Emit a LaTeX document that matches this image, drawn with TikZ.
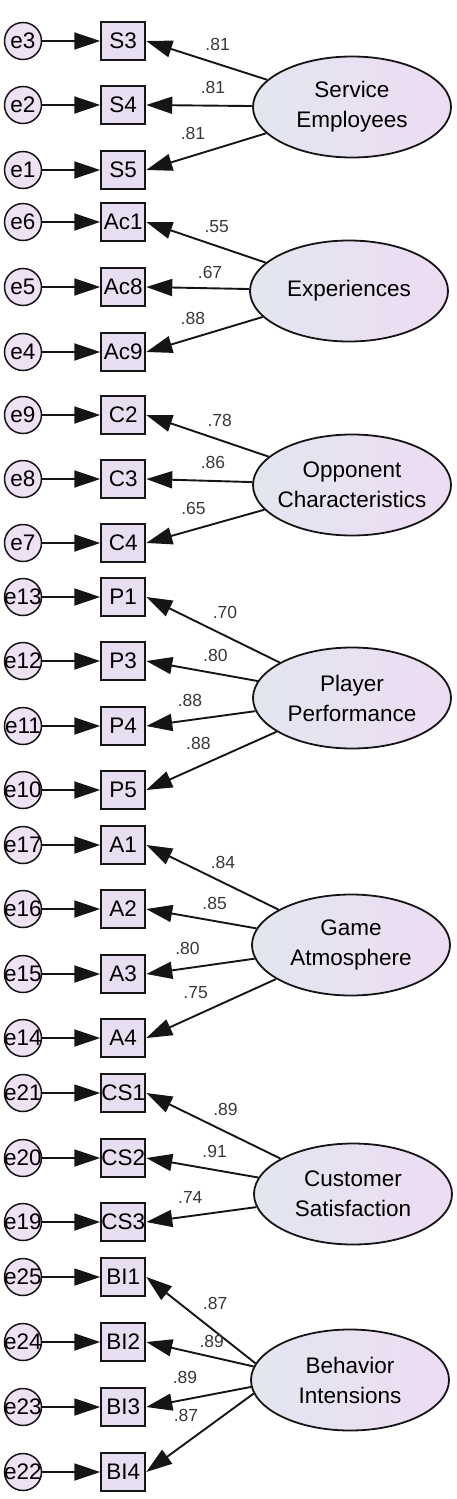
\documentclass[tikz,border=0pt]{standalone}
\usepackage{fontspec}
\setmainfont{Liberation Sans}
\usepackage{xcolor}
\usepackage{tikz}
\usetikzlibrary{arrows.meta,positioning,shapes.geometric}
\definecolor{ink}{HTML}{151515}
\definecolor{lavbox}{HTML}{E8DEF1}
\definecolor{laverr}{HTML}{EDE1F3}
\definecolor{latleft}{HTML}{E2E6EF}
\definecolor{latright}{HTML}{EEDCF3}
\newcommand{\semfont}{\fontsize{22.5}{30}\selectfont}
\newcommand{\lblfont}{\fontsize{17.5}{20}\selectfont}
\tikzset{
  semerr/.style={circle, draw=ink, line width=1.5pt, fill=laverr, minimum size=37pt, inner sep=-3pt, font=\semfont},
  semind/.style={draw=ink, line width=2pt, fill=lavbox, minimum width=44pt, minimum height=38pt, inner sep=0pt, font=\semfont},
  semlat/.style={ellipse, draw=ink, line width=1.8pt, left color=latleft, right color=latright, minimum width=198pt, minimum height=101pt, inner xsep=-10pt, inner ysep=0pt, align=center, font=\semfont},
  semarrow/.style={-{Triangle[length=26pt, width=17pt]}, line width=1.9pt, ink},
  semlabel/.style={font=\lblfont, text=ink!85, inner sep=0pt},
}

\begin{document}
\begin{tikzpicture}[x=1pt, y=-1pt, node distance=58pt]
  \useasboundingbox (0,0) rectangle (457,1499);
  % error terms and indicators
  \node[semerr] (e3) at (23,41) {e3};    \node[semind, right=of e3] (S3) {S3};
  \node[semerr] (e2) at (23,105) {e2};   \node[semind, right=of e2] (S4) {S4};
  \node[semerr] (e1) at (23,170) {e1};   \node[semind, right=of e1] (S5) {S5};
  \node[semerr] (e6) at (23,222) {e6};   \node[semind, right=of e6] (Ac1) {Ac1};
  \node[semerr] (e5) at (23,287) {e5};   \node[semind, right=of e5] (Ac8) {Ac8};
  \node[semerr] (e4) at (23,352) {e4};   \node[semind, right=of e4] (Ac9) {Ac9};
  \node[semerr] (e9) at (23,415) {e9};   \node[semind, right=of e9] (C2) {C2};
  \node[semerr] (e8) at (23,479) {e8};   \node[semind, right=of e8] (C3) {C3};
  \node[semerr] (e7) at (23,543) {e7};   \node[semind, right=of e7] (C4) {C4};
  \node[semerr] (e13) at (23,597) {e13}; \node[semind, right=of e13] (P1) {P1};
  \node[semerr] (e12) at (23,661) {e12}; \node[semind, right=of e12] (P3) {P3};
  \node[semerr] (e11) at (23,726) {e11}; \node[semind, right=of e11] (P4) {P4};
  \node[semerr] (e10) at (23,790) {e10}; \node[semind, right=of e10] (P5) {P5};
  \node[semerr] (e17) at (23,845) {e17}; \node[semind, right=of e17] (A1) {A1};
  \node[semerr] (e16) at (23,909) {e16}; \node[semind, right=of e16] (A2) {A2};
  \node[semerr] (e15) at (23,974) {e15}; \node[semind, right=of e15] (A3) {A3};
  \node[semerr] (e14) at (23,1038) {e14}; \node[semind, right=of e14] (A4) {A4};
  \node[semerr] (e21) at (23,1093) {e21}; \node[semind, right=of e21] (CS1) {CS1};
  \node[semerr] (e20) at (23,1158) {e20}; \node[semind, right=of e20] (CS2) {CS2};
  \node[semerr] (e19) at (23,1222) {e19}; \node[semind, right=of e19] (CS3) {CS3};
  \node[semerr] (e25) at (23,1277) {e25}; \node[semind, right=of e25] (BI1) {BI1};
  \node[semerr] (e24) at (23,1342) {e24}; \node[semind, right=of e24] (BI2) {BI2};
  \node[semerr] (e23) at (23,1407) {e23}; \node[semind, right=of e23] (BI3) {BI3};
  \node[semerr] (e22) at (23,1472) {e22}; \node[semind, right=of e22] (BI4) {BI4};
  \foreach \e/\i in {e3/S3, e2/S4, e1/S5, e6/Ac1, e5/Ac8, e4/Ac9, e9/C2, e8/C3, e7/C4,
      e13/P1, e12/P3, e11/P4, e10/P5, e17/A1, e16/A2, e15/A3, e14/A4,
      e21/CS1, e20/CS2, e19/CS3, e25/BI1, e24/BI2, e23/BI3, e22/BI4}
    \draw[semarrow] (\e) -- (\i);
  % latent factors
  \node[semlat] (serv) at (352,107) {Service\\Employees};
  \node[semlat] (expe) at (349,291) {Experiences};
  \node[semlat] (oppo) at (352,485) {Opponent\\Characteristics};
  \node[semlat] (play) at (352,698) {Player\\Performance};
  \node[semlat] (atmo) at (351,945) {Game\\Atmosphere};
  \node[semlat] (csat) at (353,1194) {Customer\\Satisfaction};
  \node[semlat] (bint) at (350,1380) {Behavior\\Intensions};
  % loadings
  \draw[semarrow] (serv) -- node[semlabel, pos=.41, yshift=19pt]{.81} (S3.east);
  \draw[semarrow] (serv) -- node[semlabel, pos=.37, yshift=18pt]{.81} (S4.east);
  \draw[semarrow] (serv) -- node[semlabel, pos=.61, yshift=22pt]{.81} (S5.east);
  \draw[semarrow] (expe) -- node[semlabel, pos=.41, yshift=19pt]{.55} (Ac1.east);
  \draw[semarrow] (expe) -- node[semlabel, pos=.38, yshift=16pt]{.67} (Ac8.east);
  \draw[semarrow] (expe) -- node[semlabel, pos=.60, yshift=20pt]{.88} (Ac9.east);
  \draw[semarrow] (oppo) -- node[semlabel, pos=.40, yshift=20pt]{.78} (C2.east);
  \draw[semarrow] (oppo) -- node[semlabel, pos=.37, yshift=18pt]{.86} (C3.east);
  \draw[semarrow] (oppo) -- node[semlabel, pos=.60, yshift=21pt]{.65} (C4.east);
  \draw[semarrow] (play) -- node[semlabel, pos=.41, yshift=23pt]{.70} (P1.east);
  \draw[semarrow] (play) -- node[semlabel, pos=.38, yshift=18pt]{.80} (P3.east);
  \draw[semarrow] (play) -- node[semlabel, pos=.60, yshift=20pt]{.88} (P4.east);
  \draw[semarrow] (play) -- node[semlabel, pos=.60, yshift=23pt]{.88} (P5.east);
  \draw[semarrow] (atmo) -- node[semlabel, pos=.42, yshift=20pt]{.84} (A1.east);
  \draw[semarrow] (atmo) -- node[semlabel, pos=.38, yshift=18pt]{.85} (A2.east);
  \draw[semarrow] (atmo) -- node[semlabel, pos=.62, yshift=20pt]{.80} (A3.east);
  \draw[semarrow] (atmo) -- node[semlabel, pos=.62, yshift=23pt]{.75} (A4.east);
  \draw[semarrow] (csat) -- node[semlabel, pos=.41, yshift=22pt]{.89} (CS1.east);
  \draw[semarrow] (csat) -- node[semlabel, pos=.39, yshift=18pt]{.91} (CS2.east);
  \draw[semarrow] (csat) -- node[semlabel, pos=.60, yshift=19pt]{.74} (CS3.east);
  \draw[semarrow] (bint.170) -- node[semlabel, pos=.37, yshift=28pt]{.87} (BI1.east);
  \draw[semarrow] (bint.172) -- node[semlabel, pos=.39, yshift=15pt]{.89} (BI2.east);
  \draw[semarrow] (bint.184) -- node[semlabel, pos=.63, yshift=22pt]{.89} (BI3.east);
  \draw[semarrow] (bint.188) -- node[semlabel, pos=.63, yshift=28pt]{.87} (BI4.east);
\end{tikzpicture}
\end{document}
